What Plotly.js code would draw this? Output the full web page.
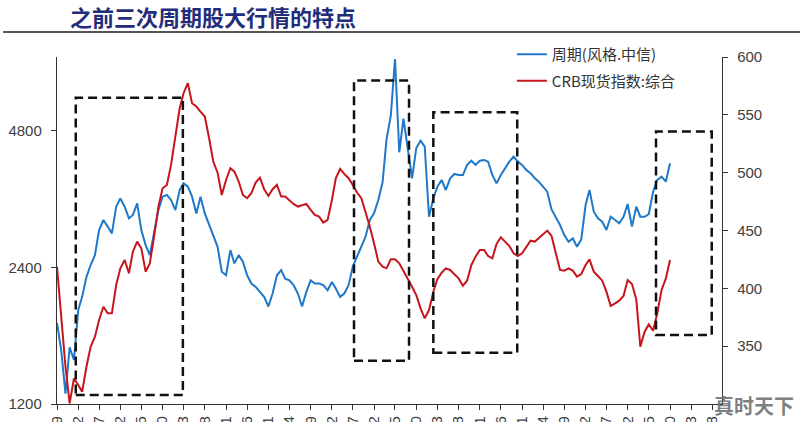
<!DOCTYPE html>
<html><head><meta charset="utf-8">
<script src="https://cdn.plot.ly/plotly-3.0.1.min.js"></script>
<style>html,body{margin:0;padding:0;overflow:hidden;background:#fff}#chart{width:800px;height:422px}</style>
</head><body><div id="chart"></div>
<script>
// Monthly readings, starting 2008-09
const cyclicalIndex = [1810,1579,1265,1600,1500,1934,2066,2285,2428,2553,
2899,3050,2950,2850,3263,3404,3263,3075,3128,3319,
2899,2686,2553,2874,3208,3433,3462,3376,3208,3551,
3673,3611,3433,3154,3433,3154,2974,2802,2663,2346,
2305,2619,2448,2553,2468,2305,2210,2173,2119,2066,
1967,2101,2305,2366,2266,2247,2192,2101,1967,2119,
2247,2210,2210,2192,2136,2228,2155,2066,2101,2192,
2407,2532,2686,2802,3050,3154,3376,3698,4590,5175,
6900,4300,5100,4350,3768,4386,4562,4424,3101,3404,
3611,3736,3551,3768,3852,3831,3831,4033,4120,4033,
4120,4135,4100,3831,3673,3831,3965,4100,4205,4100,
4033,3931,3865,3768,3705,3611,3521,3219,3091,2974,
2826,2732,2779,2663,2765,3291,3551,3181,3075,3024,
2899,3101,3050,2999,3101,3308,2950,3263,3101,3101,
3143,3521,3736,3800,3705,4066];
const crbSpot = [418.7,378.4,332.2,300.5,322.1,316.4,310.6,332.2,349.5,358.2,
372.6,384.1,378.4,378.4,402.9,417.3,424.5,413.0,431.7,440.4,
434.6,414.4,421.6,444.7,470.7,486.5,489.4,506.7,531.2,555.7,
568.7,577.4,560.0,557.2,552.8,548.5,529.8,509.6,500.0,480.7,
493.7,503.8,500.9,492.3,480.7,477.9,482.2,491.4,495.7,485.7,
479.9,485.7,489.4,479.3,479.3,475.8,473.0,470.7,472.1,473.0,
467.8,463.4,462.0,456.8,459.1,476.4,495.2,503.2,498.9,495.2,
489.4,482.8,477.9,466.3,453.3,438.9,423.1,418.7,417.3,425.1,
425.1,421.6,415.3,407.8,401.4,394.2,382.7,374.0,381.2,397.1,
407.8,413.5,417.3,415.9,412.4,408.6,402.3,406.6,420.2,427.4,
433.2,433.2,428.0,426.0,438.4,444.1,440.4,436.6,430.3,428.0,
430.3,436.1,441.2,440.4,443.3,446.7,449.9,445.3,430.9,415.9,
415.3,417.3,415.3,410.1,412.4,420.2,425.1,414.4,410.7,406.6,
397.1,384.7,387.0,389.3,393.4,407.2,403.7,390.5,349.6,362.5,
368.8,363.4,378.4,398.6,408.6,424.5];
const tickMonths = ['2008-09','2009-02','2009-07','2009-12','2010-05','2010-10','2011-03','2011-08',
'2012-01','2012-06','2012-11','2013-04','2013-09','2014-02','2014-07','2014-12','2015-05','2015-10',
'2016-03','2016-08','2017-01','2017-06','2017-11','2018-04','2018-09','2019-02','2019-07','2019-12',
'2020-05','2020-10','2021-03','2021-08'];
const leftTicks = [1200, 2400, 4800];
const rightTicks = [350, 400, 450, 500, 550, 600];
const boxStart = ['2009-01-14','2014-07-10','2016-02-01','2020-06-22'];
const boxEnd = ['2011-02-24','2015-08-10','2017-09-27','2021-07-28'];
const boxTop = [564.7, 579.7, 552.3, 535.6];
const boxBottom = [307.8, 337.5, 344.4, 359.7];

const months = cyclicalIndex.map((_, i) => {
  const d = new Date(Date.UTC(2008, 8 + i, 1));
  return d.toISOString().slice(0, 10);
});

const traces = [
  {x: months, y: cyclicalIndex, name: '周期(风格.中信)', type: 'scatter', mode: 'lines',
   yaxis: 'y', legendgroup: 'a', line: {color: '#1f78c8', width: 2}},
  {x: months, y: crbSpot, name: 'CRB现货指数:综合', type: 'scatter', mode: 'lines',
   yaxis: 'y2', legendgroup: 'b', line: {color: '#c5161d', width: 2}}
];

const shapes = boxStart.map((s, i) => ({
  type: 'rect', xref: 'x', yref: 'y2', x0: s, x1: boxEnd[i], y0: boxBottom[i], y1: boxTop[i],
  line: {color: '#111', width: 2.5, dash: '9px,5px'}, fillcolor: 'rgba(0,0,0,0)'
}));
shapes.push({type: 'line', xref: 'paper', yref: 'paper', x0: -0.081, x1: 1.12, y0: 1.072, y1: 1.072,
  line: {color: '#555', width: 2}});

const axisCommon = {ticks: 'outside', ticklen: 5, tickcolor: '#333', showline: true, linecolor: '#333',
  linewidth: 1.2, showgrid: false, zeroline: false,
  tickfont: {family: 'Liberation Sans, Arial, sans-serif', size: 15, color: '#404040'}};

const layout = {
  width: 800, height: 422,
  margin: {l: 57, r: 78, t: 57, b: 18},
  paper_bgcolor: '#fff', plot_bgcolor: '#fff',
  font: {family: 'Liberation Sans, Arial, sans-serif', size: 15, color: '#404040'},
  xaxis: Object.assign({}, axisCommon, {type: 'date', range: ['2008-09-01', '2021-10-10'],
    tickmode: 'array', tickvals: tickMonths.map(m => m + '-01'), ticktext: tickMonths,
    tickangle: -90, automargin: false}),
  yaxis: Object.assign({}, axisCommon, {type: 'log', range: [Math.log10(1200), Math.log10(6970)],
    tickmode: 'array', tickvals: leftTicks, ticktext: leftTicks.map(String), ticklabelstandoff: 6,
    automargin: false}),
  yaxis2: Object.assign({}, axisCommon, {overlaying: 'y', side: 'right', range: [300, 600],
    tickmode: 'array', tickvals: rightTicks, ticktext: rightTicks.map(String), ticklabelstandoff: 6,
    automargin: false}),
  showlegend: true,
  legend: {x: 0.684, y: 1.055, xanchor: 'left', yanchor: 'top', bgcolor: 'rgba(0,0,0,0)',
    font: {family: 'Noto Sans CJK SC, sans-serif', size: 15, color: '#333'},
    traceorder: 'grouped', tracegroupgap: 4},
  shapes: shapes,
  annotations: [
    {xref: 'paper', yref: 'paper', x: 0.0165, y: 1.118, xanchor: 'left', yanchor: 'middle',
     text: '之前三次周期股大行情的特点', showarrow: false,
     font: {family: 'Noto Sans CJK SC, sans-serif', size: 22, color: '#1f2d7a', weight: 700}},
    {xref: 'paper', yref: 'paper', x: 0.985, y: -0.005, xanchor: 'left', yanchor: 'middle',
     text: '真时天下', showarrow: false,
     font: {family: 'Noto Sans CJK SC, sans-serif', size: 20, color: 'rgba(105,105,105,0.85)', weight: 700}}
  ]
};

Plotly.newPlot('chart', traces, layout, {displayModeBar: false, staticPlot: true});
</script>
</body></html>
